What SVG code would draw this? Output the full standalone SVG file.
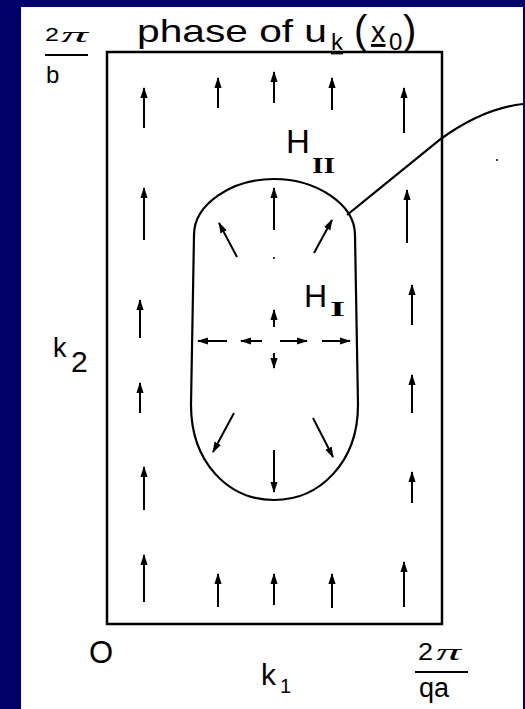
<svg xmlns="http://www.w3.org/2000/svg" width="525" height="709" viewBox="0 0 525 709">
<style>
.t{font-family:"Liberation Sans",Arial,sans-serif;fill:#000}
.pi{font-family:"Liberation Serif","DejaVu Serif",serif;font-style:italic;fill:#000}
.rm{font-family:"Liberation Serif","DejaVu Serif",serif;font-weight:bold;fill:#000}
.a{stroke:#000;stroke-width:2;fill:none;marker-end:url(#ah)}
.edge{stroke:#000;stroke-width:2.2;fill:none}
</style>
<defs>
<marker id="ah" markerWidth="11" markerHeight="8" refX="10" refY="4" orient="auto" markerUnits="userSpaceOnUse">
<path d="M0,0.4 L11,4 L0,7.6 Z" fill="#000"/>
</marker>
</defs>
<rect x="0" y="0" width="525" height="709" fill="#000068"/>
<rect x="21" y="7" width="502" height="702" fill="#fff"/>

<g id="title">
<text class="t" x="137" y="42" font-size="32" textLength="190" lengthAdjust="spacingAndGlyphs">phase of u</text>
<text class="t" x="331" y="50" font-size="24" text-decoration="underline">k</text>
<text class="t" x="354" y="44" font-size="40">(</text>
<text class="t" x="371" y="42" font-size="29" text-decoration="underline">x</text>
<text class="t" x="389" y="50" font-size="24">0</text>
<text class="t" x="403" y="44" font-size="40">)</text>
</g>

<g id="domain">
<rect x="107" y="52" width="335" height="572" fill="none" stroke="#000" stroke-width="2.5"/>
</g>

<g id="label-2pi-b">
<text class="t" x="45" y="41" font-size="19" textLength="14" lengthAdjust="spacingAndGlyphs">2</text>
<text class="pi" x="61" y="42" font-size="22" textLength="27" lengthAdjust="spacingAndGlyphs">π</text>
<line x1="45" y1="55" x2="88" y2="55" stroke="#000" stroke-width="2"/>
<text class="t" x="46" y="83" font-size="24">b</text>
</g>

<g id="label-k2">
<text class="t" x="53" y="357" font-size="27">k</text>
<text class="t" x="71" y="372" font-size="30">2</text>
</g>

<g id="label-origin">
<text class="t" x="89" y="663" font-size="31">O</text>
</g>

<g id="label-k1">
<text class="t" x="261" y="685" font-size="30">k</text>
<text class="t" x="280" y="693" font-size="20">1</text>
</g>

<g id="label-2pi-qa">
<text class="t" x="418" y="660" font-size="24" textLength="15" lengthAdjust="spacingAndGlyphs">2</text>
<text class="pi" x="436" y="660" font-size="24" textLength="25" lengthAdjust="spacingAndGlyphs">π</text>
<line x1="415" y1="672" x2="468" y2="672" stroke="#000" stroke-width="2"/>
<text class="t" x="419" y="697" font-size="27">qa</text>
</g>

<g id="region-HI">
<path class="edge" d="M194,235 C194,204 232,179 274,179 C316,179 355,204 355,235 L358,405 C358,462 320,500 274,500 C228,500 191,462 191,405 Z"/>
<text class="t" x="304" y="307" font-size="32">H</text>
<text class="rm" x="330" y="316" font-size="21" textLength="15" lengthAdjust="spacingAndGlyphs">I</text>
</g>

<g id="label-HII">
<text class="t" x="286" y="153" font-size="33">H</text>
<text class="rm" x="312" y="173" font-size="23" textLength="23" lengthAdjust="spacingAndGlyphs">II</text>
</g>

<g id="connectors">
<path class="edge" d="M347,215 C380,188 420,156 442,138 C470,118 495,107 523,104"/>
</g>

<g id="field-arrows">
<line class="a" x1="144" y1="128" x2="144" y2="88"/>
<line class="a" x1="218" y1="108" x2="218" y2="78"/>
<line class="a" x1="274" y1="103" x2="274" y2="72"/>
<line class="a" x1="332" y1="110" x2="332" y2="78"/>
<line class="a" x1="404" y1="133" x2="404" y2="88"/>
<line class="a" x1="144" y1="240" x2="144" y2="188"/>
<line class="a" x1="274" y1="230" x2="274" y2="188"/>
<line class="a" x1="407" y1="243" x2="407" y2="190"/>
<line class="a" x1="140" y1="338" x2="140" y2="300"/>
<line class="a" x1="412" y1="325" x2="412" y2="285"/>
<line class="a" x1="140" y1="413" x2="140" y2="383"/>
<line class="a" x1="412" y1="413" x2="412" y2="375"/>
<line class="a" x1="144" y1="510" x2="144" y2="467"/>
<line class="a" x1="412" y1="503" x2="412" y2="472"/>
<line class="a" x1="144" y1="602" x2="144" y2="555"/>
<line class="a" x1="218" y1="607" x2="218" y2="574"/>
<line class="a" x1="274" y1="605" x2="274" y2="574"/>
<line class="a" x1="332" y1="608" x2="332" y2="574"/>
<line class="a" x1="404" y1="607" x2="404" y2="562"/>
<line class="a" x1="274" y1="327" x2="274" y2="310"/>
<line class="a" x1="237" y1="257" x2="219" y2="223"/>
<line class="a" x1="314" y1="253" x2="332" y2="220"/>
<line class="a" x1="234" y1="413" x2="213" y2="452"/>
<line class="a" x1="313" y1="418" x2="333" y2="457"/>
<line class="a" x1="227" y1="341" x2="198" y2="341"/>
<line class="a" x1="262" y1="341" x2="241" y2="341"/>
<line class="a" x1="280" y1="341" x2="307" y2="341"/>
<line class="a" x1="322" y1="341" x2="350" y2="341"/>
<line class="a" x1="274" y1="353" x2="274" y2="368"/>
<line class="a" x1="274" y1="450" x2="274" y2="492"/>
<circle cx="274" cy="258" r="1" fill="#000"/>
<circle cx="497" cy="160" r="1" fill="#000"/>
</g>
</svg>
